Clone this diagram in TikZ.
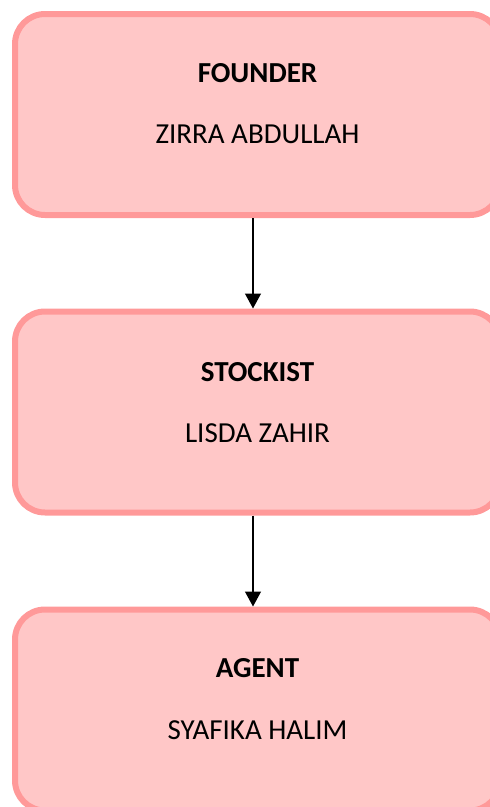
\documentclass[tikz,border=0pt]{standalone}
\usepackage{fontspec}
\setmainfont{Carlito}
\usepackage{xcolor}
\definecolor{boxfill}{RGB}{255,199,199}
\definecolor{boxline}{RGB}{255,153,153}
\usetikzlibrary{arrows.meta}
\tikzset{
  rolebox/.style={rectangle,rounded corners=30pt,draw=boxline,fill=boxfill,
    line width=6pt,minimum width=485pt,minimum height=201pt,inner sep=0pt},
  roletitle/.style={anchor=base,inner sep=0pt,font=\fontsize{29}{33}\selectfont\bfseries},
  rolename/.style={anchor=base,inner sep=0pt,font=\fontsize{29}{33}\selectfont},
  link/.style={line width=1.3pt,-{Triangle[width=16pt,length=15pt]}}
}

\begin{document}
\begin{tikzpicture}[x=1pt,y=-1pt]
    \clip (0,0) rectangle (490,807);
    % boxes
    \node[rolebox] (founder) at (257.5,114.5) {};
    \node[rolebox] (stockist) at (257.5,412) {};
    \node[rolebox] (agent) at (257.5,710) {};
    % texts
    \node[roletitle] (founder title) at (257.5,82) {FOUNDER};
    \node[rolename] (founder name) at (257.5,143) {ZIRRA ABDULLAH};
    \node[roletitle] (stockist title) at (257.5,381) {STOCKIST};
    \node[rolename] (stockist name) at (257.5,442) {LISDA ZAHIR};
    \node[roletitle] (agent title) at (257.5,677) {AGENT};
    \node[rolename] (agent name) at (257.5,739) {SYAFIKA HALIM};
    % arrows
    \draw[link] ([xshift=-4.5pt]founder.south) -- ([xshift=-4.5pt]stockist.north);
    \draw[link] ([xshift=-4.5pt]stockist.south) -- ([xshift=-4.5pt]agent.north);
\end{tikzpicture}
\end{document}
